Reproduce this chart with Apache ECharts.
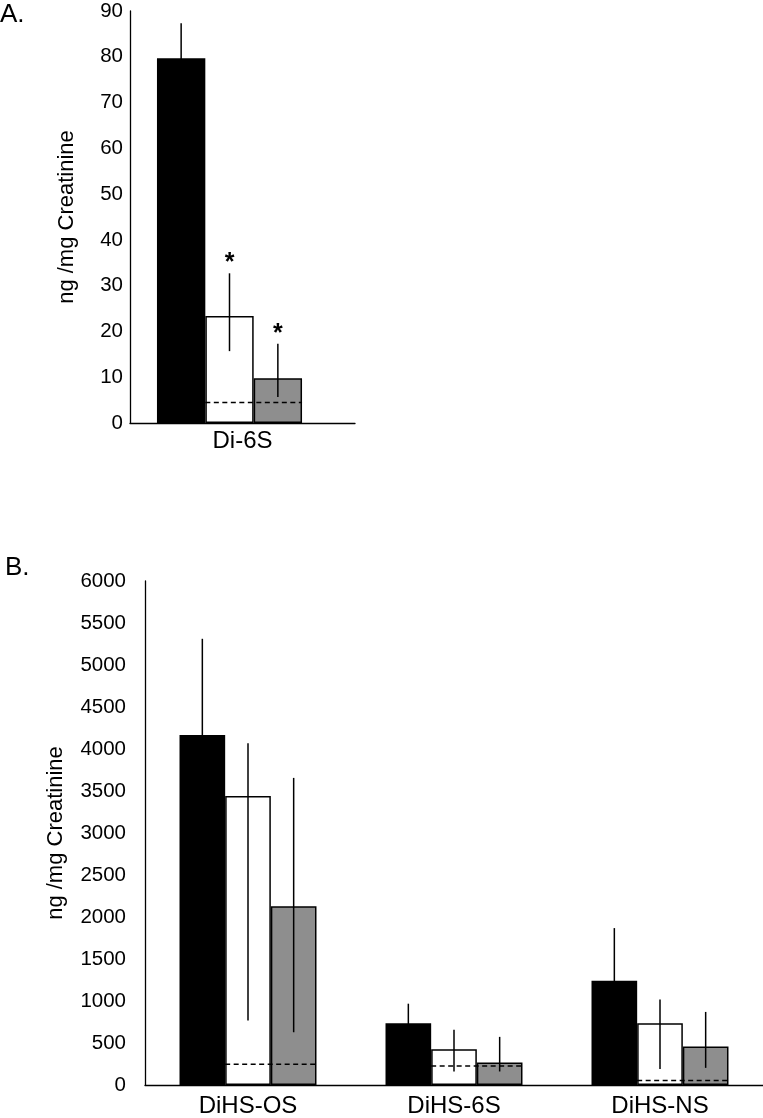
<!DOCTYPE html>
<html><head><meta charset="utf-8">
<script src="https://cdn.jsdelivr.net/npm/echarts@6/dist/echarts.min.js"></script>
<style>html,body{margin:0;padding:0;background:#fff}#c{width:763px;height:1118px}</style>
</head><body><div id="c"></div>
<script>
// ---------- data ----------
const groupNames = ['Group 1', 'Group 2', 'Group 3'];
// Panel A
const catsA = ['Di-6S'];
const blackA = [79.7];
const whiteA = [23.4];
const grayA = [9.8];
const blackErrLowA = [72.1], blackErrHighA = [87.3];
const whiteErrLowA = [15.7], whiteErrHighA = [32.7];
const grayErrLowA = [5.7], grayErrHighA = [17.3];
const dashedA = [4.5];
const starsA = [['', '*', '*']];
const ticksA = [0, 10, 20, 30, 40, 50, 60, 70, 80, 90];
// Panel B
const catsB = ['DiHS-OS', 'DiHS-6S', 'DiHS-NS'];
const blackB = [4166, 735, 1240];
const whiteB = [3439, 425, 735];
const grayB = [2127, 267, 459];
const blackErrLowB = [3020, 502, 612], blackErrHighB = [5312, 968, 1868];
const whiteErrLowB = [769, 161, 191], whiteErrHighB = [4068, 658, 1019];
const grayErrLowB = [628, 161, 204], grayErrHighB = [3656, 573, 870];
const dashedB = [246, 225, 55];
const ticksB = [0, 500, 1000, 1500, 2000, 2500, 3000, 3500, 4000, 4500, 5000, 5500, 6000];

// ---------- styling ----------
const FONT = "'Liberation Sans', Arial, sans-serif";
const fills = ['#000000', '#ffffff', '#8e8e8e'];
const gapA = 0.271, gapB = 0.335;

function barSeries(data, i, xi, yi, gap) {
  return {
    type: 'bar', name: groupNames[i], data: data, xAxisIndex: xi, yAxisIndex: yi,
    barGap: '0%', barCategoryGap: (gap * 100) + '%',
    itemStyle: { color: fills[i], borderColor: '#000', borderWidth: 1.5 },
    z: 2, silent: true
  };
}

function errSeries(lows, highs, stars, xi, yi, gap) {
  const data = [], flags = [];
  for (let s = 0; s < 3; s++) {
    for (let c = 0; c < lows[s].length; c++) {
      data.push([c, lows[s][c], highs[s][c], s]);
      flags.push(stars ? stars[c][s] : '');
    }
  }
  return {
    type: 'custom', xAxisIndex: xi, yAxisIndex: yi, data: data, z: 5, silent: true,
    encode: { x: 0, y: [1, 2] },
    renderItem: function (params, api) {
      const ci = api.value(0), lo = api.value(1), hi = api.value(2), si = api.value(3);
      const band = api.size([1, 0])[0];
      const bw = band * (1 - gap) / 3;
      const cx = api.coord([ci, 0])[0] + (si - 1) * bw;
      const yLo = api.coord([ci, lo])[1], yHi = api.coord([ci, hi])[1];
      const children = [{
        type: 'line', shape: { x1: cx, y1: yLo, x2: cx, y2: yHi },
        style: { stroke: '#000', lineWidth: 1.5 }
      }];
      const st = flags[params.dataIndex];
      if (st) {
        children.push({
          type: 'text',
          style: { text: st, x: cx, y: yHi - 10, align: 'center', verticalAlign: 'middle',
                   font: 'bold 25px ' + FONT, fill: '#000' }
        });
      }
      return { type: 'group', children: children };
    }
  };
}

function dashSeries(vals, xi, yi, gap) {
  return {
    type: 'custom', xAxisIndex: xi, yAxisIndex: yi, z: 4, silent: true,
    data: vals.map((v, c) => [c, v]), encode: { x: 0, y: 1 },
    renderItem: function (params, api) {
      const ci = api.value(0), v = api.value(1);
      const band = api.size([1, 0])[0];
      const bw = band * (1 - gap) / 3;
      const cx = api.coord([ci, 0])[0];
      const y = api.coord([ci, v])[1];
      return {
        type: 'line', shape: { x1: cx - bw / 2, y1: y, x2: cx + 1.5 * bw, y2: y },
        style: { stroke: '#000', lineWidth: 1.5, lineDash: [5, 3.5] }
      };
    }
  };
}

const axisLine = { show: true, lineStyle: { color: '#000', width: 1.3 } };
const plain = v => String(v);

const option = {
  animation: false,
  backgroundColor: '#fff',
  textStyle: { fontFamily: FONT },
  grid: [
    { left: 130, top: 11, width: 225, height: 412 },   // A visible axes
    { left: 130, top: 11, width: 199, height: 412 },   // A bars
    { left: 145, top: 581, width: 618, height: 505 }   // B
  ],
  xAxis: [
    { gridIndex: 0, type: 'category', data: catsA, axisLine: axisLine, axisTick: { show: false },
      axisLabel: { fontSize: 24, color: '#000', margin: 6, fontFamily: FONT } },
    { gridIndex: 1, type: 'category', data: catsA, show: false },
    { gridIndex: 2, type: 'category', data: catsB, axisLine: axisLine, axisTick: { show: false },
      axisLabel: { fontSize: 24, color: '#000', margin: 9, fontFamily: FONT } }
  ],
  yAxis: [
    { gridIndex: 0, type: 'value', min: ticksA[0], max: ticksA[ticksA.length - 1], interval: ticksA[1] - ticksA[0],
      axisLine: axisLine, axisTick: { show: false }, splitLine: { show: false },
      axisLabel: { fontSize: 20.5, color: '#000', margin: 7, fontFamily: FONT, formatter: plain },
      name: 'ng /mg Creatinine', nameLocation: 'middle', nameGap: 52,
      nameTextStyle: { fontSize: 22, color: '#000', fontFamily: FONT, padding: [0, 0, 0, 0] } },
    { gridIndex: 1, type: 'value', min: ticksA[0], max: ticksA[ticksA.length - 1], show: false, splitLine: { show: false } },
    { gridIndex: 2, type: 'value', min: ticksB[0], max: ticksB[ticksB.length - 1], interval: ticksB[1] - ticksB[0],
      axisLine: axisLine, axisTick: { show: false }, splitLine: { show: false },
      axisLabel: { fontSize: 20.5, color: '#000', margin: 19, fontFamily: FONT, formatter: plain },
      name: 'ng /mg Creatinine', nameLocation: 'middle', nameGap: 78,
      nameTextStyle: { fontSize: 22, color: '#000', fontFamily: FONT } }
  ],
  graphic: [
    { type: 'text', left: 0, top: 2, style: { text: 'A.', font: '26px ' + FONT, fill: '#000' } },
    { type: 'text', left: 5, top: 555, style: { text: 'B.', font: '26px ' + FONT, fill: '#000' } }
  ],
  series: [
    barSeries(blackA, 0, 1, 1, gapA),
    barSeries(whiteA, 1, 1, 1, gapA),
    barSeries(grayA, 2, 1, 1, gapA),
    dashSeries(dashedA, 1, 1, gapA),
    errSeries([blackErrLowA, whiteErrLowA, grayErrLowA], [blackErrHighA, whiteErrHighA, grayErrHighA], starsA, 1, 1, gapA),
    barSeries(blackB, 0, 2, 2, gapB),
    barSeries(whiteB, 1, 2, 2, gapB),
    barSeries(grayB, 2, 2, 2, gapB),
    dashSeries(dashedB, 2, 2, gapB),
    errSeries([blackErrLowB, whiteErrLowB, grayErrLowB], [blackErrHighB, whiteErrHighB, grayErrHighB], null, 2, 2, gapB)
  ]
};

const chart = echarts.init(document.getElementById('c'), null, { renderer: 'canvas' });
chart.setOption(option);
</script>
</body></html>
